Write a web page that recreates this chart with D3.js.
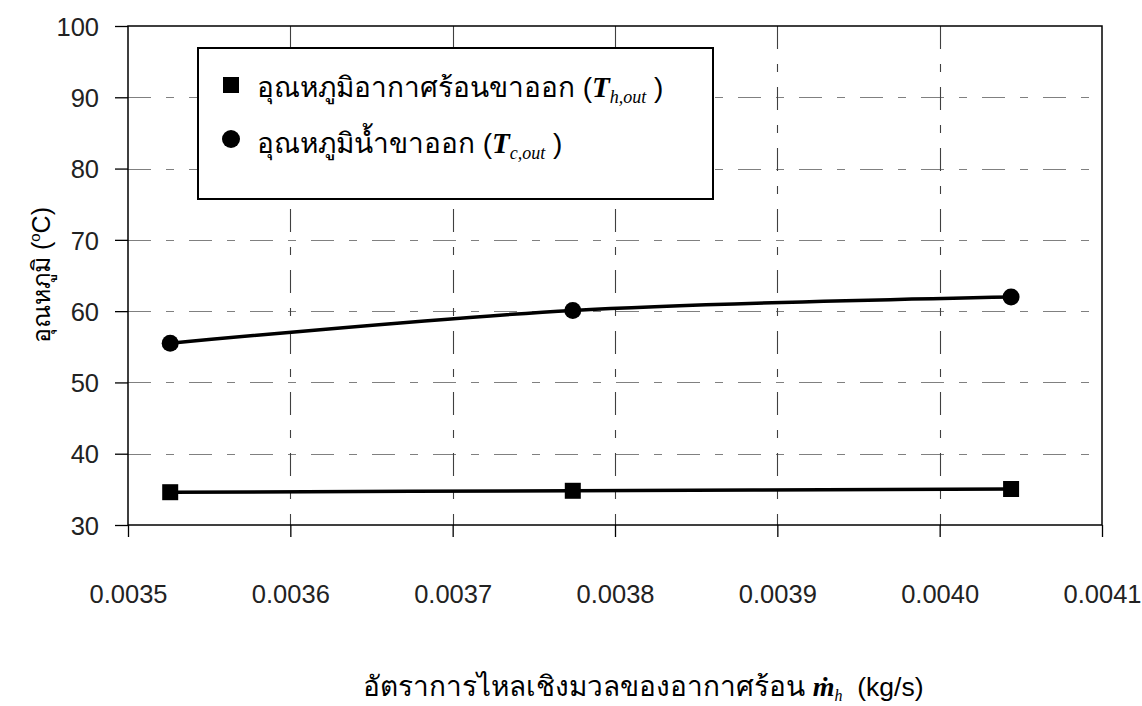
<!DOCTYPE html>
<html>
<head>
<meta charset="utf-8">
<script src="https://cdn.jsdelivr.net/npm/d3@7"></script>
<style>
  html, body { margin: 0; padding: 0; background: #fff; }
  svg { display: block; }
  .sans { font-family: "Liberation Sans", Arial, sans-serif; }
  .serif { font-family: "Liberation Serif", "Times New Roman", serif; }
</style>
</head>
<body>
<svg id="chart" width="1142" height="706"></svg>
<script>
// ---- data ----
const massFlow = [0.003526, 0.003774, 0.004044];        // kg/s
const hotAirOut = [34.6, 34.8, 35.05];                   // T_h,out  (°C)
const waterOut = [55.5, 60.1, 62.0];                     // T_c,out  (°C)
const xTicks = [0.0035, 0.0036, 0.0037, 0.0038, 0.0039, 0.0040, 0.0041];
const yTicks = [30, 40, 50, 60, 70, 80, 90, 100];
const seriesNames = ["อุณหภูมิอากาศร้อนขาออก", "อุณหภูมิน้ำขาออก"];
const seriesSubs = ["h,out", "c,out"];
const xTitleThai = "อัตราการไหลเชิงมวลของอากาศร้อน";
const yTitleThai = "อุณหภูมิ";

// ---- layout ----
const L = 128, R = 1102, T = 26, B = 525;
const svg = d3.select("#chart");
const x = d3.scaleLinear().domain([0.0035, 0.0041]).range([L, R]);
const y = d3.scaleLinear().domain([30, 100]).range([B, T]);

// grid lines
const dash = "23,15,8,15";
svg.append("g").selectAll("line").data(yTicks.filter(v => v > 30 && v < 100)).join("line")
  .attr("x1", L).attr("x2", R)
  .attr("y1", d => Math.round(y(d)) + 0.5).attr("y2", d => Math.round(y(d)) + 0.5)
  .attr("stroke", "#808080").attr("stroke-width", 1.2).attr("stroke-dasharray", dash);
svg.append("g").selectAll("line").data(xTicks.slice(1, -1)).join("line")
  .attr("x1", d => Math.round(x(d)) + 0.5).attr("x2", d => Math.round(x(d)) + 0.5)
  .attr("y1", T).attr("y2", B)
  .attr("stroke", "#404040").attr("stroke-width", 1.1).attr("stroke-dasharray", dash);

// plot border
svg.append("rect").attr("x", L).attr("y", T).attr("width", R - L).attr("height", B - T)
  .attr("fill", "none").attr("stroke", "#000").attr("stroke-width", 1.5);

// axes
const yAxis = d3.axisLeft(y).tickValues(yTicks).tickSize(13).tickPadding(16).tickFormat(d3.format("d"));
const gy = svg.append("g").attr("transform", `translate(${L},0)`).call(yAxis);
const xAxis = d3.axisBottom(x).tickValues(xTicks).tickSize(12).tickPadding(48).tickFormat(d3.format(".4f"));
const gx = svg.append("g").attr("transform", `translate(0,${B})`).call(xAxis);
[gx, gy].forEach(g => {
  g.select(".domain").remove();
  g.selectAll(".tick line").attr("stroke", "#000").attr("stroke-width", 1.3);
  g.selectAll(".tick text").attr("class", "sans").attr("font-size", 25.5).attr("fill", "#222");
});
gy.selectAll(".tick text").attr("dy", "0.36em");

// lines (smoothed)
const line = d3.line().x(d => x(d[0])).y(d => y(d[1])).curve(d3.curveCatmullRom.alpha(0.5));
const hotPts = massFlow.map((m, i) => [m, hotAirOut[i]]);
const waterPts = massFlow.map((m, i) => [m, waterOut[i]]);
[hotPts, waterPts].forEach(p => svg.append("path").datum(p).attr("d", line)
  .attr("fill", "none").attr("stroke", "#000").attr("stroke-width", 3.5));

// markers
svg.append("g").selectAll("rect").data(hotPts).join("rect")
  .attr("x", d => x(d[0]) - 8).attr("y", d => y(d[1]) - 8)
  .attr("width", 16).attr("height", 16).attr("fill", "#000");
svg.append("g").selectAll("circle").data(waterPts).join("circle")
  .attr("cx", d => x(d[0])).attr("cy", d => y(d[1])).attr("r", 8.5).attr("fill", "#000");

// legend
const lg = svg.append("g");
lg.append("rect").attr("x", 198).attr("y", 48).attr("width", 515).attr("height", 151)
  .attr("fill", "#fff").attr("stroke", "#000").attr("stroke-width", 2);
lg.append("rect").attr("x", 223).attr("y", 77).attr("width", 16).attr("height", 16).attr("fill", "#000");
lg.append("circle").attr("cx", 231).attr("cy", 139).attr("r", 9).attr("fill", "#000");
[97, 153].forEach((by, i) => {
  const t = lg.append("text").attr("x", 257).attr("y", by).attr("font-size", 28).attr("fill", "#000");
  t.append("tspan").attr("class", "sans").text(seriesNames[i] + " (");
  t.append("tspan").attr("class", "serif").attr("font-style", "italic").attr("font-weight", "bold")
    .attr("font-size", 29).text("T");
  t.append("tspan").attr("class", "serif").attr("font-style", "italic")
    .attr("font-size", 18).attr("dy", 6).text(seriesSubs[i]);
  t.append("tspan").attr("class", "sans").attr("dy", -6).text(" )");
});

// x title
const xt = svg.append("text").attr("x", 363).attr("y", 696).attr("font-size", 28).attr("fill", "#000");
xt.append("tspan").attr("class", "sans").text(xTitleThai + " ");
xt.append("tspan").attr("class", "serif").attr("font-style", "italic").attr("font-weight", "bold")
  .attr("font-size", 28).text("ṁ");
xt.append("tspan").attr("class", "serif").attr("font-style", "italic")
  .attr("font-size", 16).attr("dy", 5).text("h");
xt.append("tspan").attr("class", "sans").attr("font-size", 26.5).attr("dy", -5).attr("xml:space", "preserve").text("  (kg/s)");

// y title
const yt = svg.append("text").attr("transform", "translate(50,275) rotate(-90)")
  .attr("text-anchor", "middle").attr("font-size", 25).attr("fill", "#000").attr("class", "sans");
yt.append("tspan").text(yTitleThai + " (");
yt.append("tspan").attr("font-size", 15).attr("dy", -10).text("o");
yt.append("tspan").attr("dy", 10).text("C)");
</script>
</body>
</html>
